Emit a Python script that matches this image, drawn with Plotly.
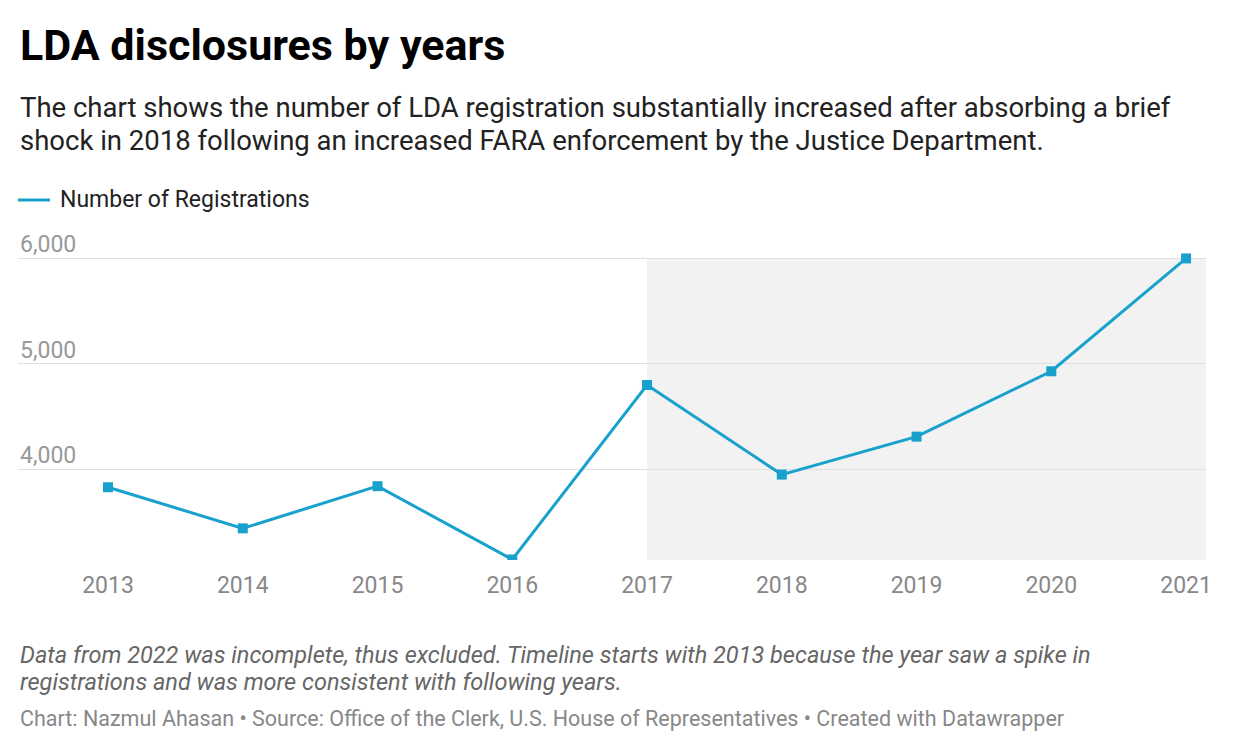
import plotly.graph_objects as go

years = [2013, 2014, 2015, 2016, 2017, 2018, 2019, 2020, 2021]
registrations = [3830, 3440, 3840, 3145, 4800, 3950, 4310, 4930, 6000]
y_ticks = [4000, 5000, 6000]
y_labels = ["4,000", "5,000", "6,000"]

F = "Roboto"
col = "#18a1cd"
fig = go.Figure()
fig.add_shape(type="rect", xref="x", yref="y", x0=2017, x1=2021.148, y0=3140, y1=6000,
              fillcolor="#f2f2f2", line_width=0, layer="below")
fig.add_trace(go.Scatter(x=years, y=registrations, mode="lines+markers",
                         line=dict(color=col, width=3),
                         marker=dict(symbol="square", size=10, color=col),
                         name="Number of Registrations"))
for v, l in zip(y_ticks, y_labels):
    fig.add_annotation(xref="paper", yref="y", x=0, y=v, text=l, showarrow=False, yshift=-2,
                       xanchor="left", yanchor="bottom", font=dict(family=F, size=23, color="#999"))

fig.update_layout(
    width=1240, height=752, margin=dict(l=10, r=42, t=242, b=200),
    plot_bgcolor="white", paper_bgcolor="white", showlegend=False,
    xaxis=dict(range=[2012.332, 2021.148], tickvals=years, showgrid=False, zeroline=False,
               tickfont=dict(family=F, size=23, color="#888"), ticks="outside", ticklen=4,
               tickcolor="rgba(0,0,0,0)"),
    yaxis=dict(range=[3140, 6080], tickvals=y_ticks, showticklabels=False,
               gridcolor="#e0e0e0", gridwidth=1, zeroline=False),
)

def ann(y, text, size, color="#000", italic=False, bold=False, xshift=0):
    t = text
    if bold: t = "<b>" + t + "</b>"
    if italic: t = "<i>" + t + "</i>"
    fig.add_annotation(xref="paper", yref="paper", x=0, y=(560 - y) / 310.0, text=t,
                       showarrow=False, xanchor="left", yanchor="middle", xshift=xshift,
                       align="left", font=dict(family=F, size=size, color=color))

ann(45, "LDA disclosures by years", 43, bold=True)
ann(107, "The chart shows the number of LDA registration substantially increased after absorbing a brief", 27.5, "#222")
ann(140, "shock in 2018 following an increased FARA enforcement by the Justice Department.", 27.5, "#222")
ann(200, "Number of Registrations", 23, "#222", xshift=40)
ann(655, "Data from 2022 was incomplete, thus excluded. Timeline starts with 2013 because the year saw a spike in", 23.5, "#666", italic=True)
ann(682, "registrations and was more consistent with following years.", 23.5, "#666", italic=True)
ann(718, "Chart: Nazmul Ahasan • Source: Office of the Clerk, U.S. House of Representatives • Created with Datawrapper", 21.5, "#888")
fig.add_shape(type="line", xref="paper", yref="paper", x0=0, x1=32/1188, y0=(560-200)/310, y1=(560-200)/310,
              line=dict(color=col, width=3))
fig.write_html("out.html")
